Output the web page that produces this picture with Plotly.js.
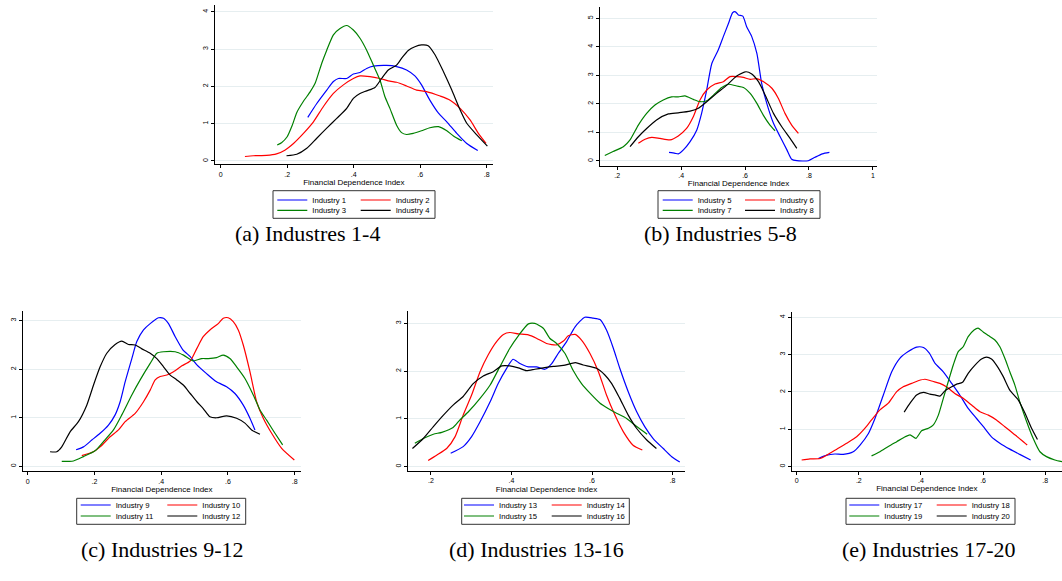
<!DOCTYPE html>
<html><head><meta charset="utf-8">
<script src="https://cdn.plot.ly/plotly-3.0.1.min.js"></script>
<style>html,body{margin:0;padding:0;background:#fff;}#chart{width:1062px;height:581px;}</style>
</head><body><div id="chart"></div>
<script>
// ---------- data ----------
const seriesNames = ['Industry 1','Industry 2','Industry 3','Industry 4','Industry 5','Industry 6','Industry 7','Industry 8','Industry 9','Industry 10','Industry 11','Industry 12','Industry 13','Industry 14','Industry 15','Industry 16','Industry 17','Industry 18','Industry 19','Industry 20'];
const panelCaptions = ['(a) Industres 1-4','(b) Industries 5-8','(c) Industries 9-12','(d) Industries 13-16','(e) Industries 17-20'];
const axisTitle = 'Financial Dependence Index';
const xTickValsA = [0,0.2,0.4,0.6,0.8];
const xTickTextA = ['0','.2','.4','.6','.8'];
const xTickValsB = [0.2,0.4,0.6,0.8,1];
const xTickTextB = ['.2','.4','.6','.8','1'];
const xTickValsD = [0.2,0.4,0.6,0.8];
const xTickTextD = ['.2','.4','.6','.8'];
const yTicks4 = [0,1,2,3,4];
const yTicks5 = [0,1,2,3,4,5];
const yTicks3 = [0,1,2,3];

const ind1X = [0.262,0.289,0.319,0.339,0.354,0.379,0.399,0.419,0.439,0.459,0.499,0.529,0.559,0.584,0.604,0.629,0.655,0.680,0.710,0.740,0.773];
const ind1Y = [1.17,1.54,1.90,2.13,2.21,2.21,2.33,2.37,2.48,2.54,2.56,2.53,2.44,2.28,2.04,1.63,1.28,1.05,0.74,0.47,0.28];
const ind2X = [0.073,0.098,0.138,0.168,0.193,0.219,0.249,0.279,0.309,0.339,0.369,0.399,0.419,0.449,0.479,0.509,0.529,0.559,0.589,0.619,0.660,0.690,0.720,0.750,0.775,0.798];
const ind2Y = [0.12,0.14,0.15,0.19,0.29,0.47,0.74,1.05,1.46,1.81,2.04,2.21,2.28,2.26,2.21,2.14,2.11,2.01,1.90,1.86,1.74,1.63,1.41,1.10,0.74,0.47];
const ind3X = [0.170,0.183,0.200,0.215,0.229,0.249,0.269,0.284,0.304,0.319,0.339,0.359,0.379,0.399,0.419,0.439,0.459,0.479,0.494,0.509,0.529,0.544,0.559,0.579,0.604,0.629,0.655,0.680,0.700,0.725];
const ind3Y = [0.43,0.49,0.65,0.95,1.30,1.60,1.85,2.08,2.62,2.97,3.38,3.55,3.63,3.51,3.29,2.97,2.57,2.17,1.72,1.41,0.96,0.76,0.71,0.74,0.81,0.89,0.92,0.81,0.67,0.54];
const ind4X = [0.198,0.229,0.259,0.289,0.319,0.349,0.379,0.399,0.419,0.439,0.464,0.484,0.504,0.529,0.544,0.564,0.584,0.604,0.624,0.645,0.670,0.695,0.720,0.740,0.770,0.802];
const ind4Y = [0.14,0.18,0.34,0.61,0.88,1.14,1.41,1.68,1.81,1.88,1.97,2.21,2.44,2.57,2.75,2.96,3.06,3.11,3.09,2.84,2.39,1.90,1.37,1.01,0.70,0.40];

const ind5X = [0.362,0.381,0.391,0.407,0.428,0.449,0.464,0.480,0.496,0.516,0.532,0.548,0.561,0.570,0.579,0.593,0.605,0.621,0.637,0.652,0.668,0.689,0.710,0.731,0.746,0.762,0.798,0.819,0.842,0.864];
const ind5Y = [0.30,0.27,0.25,0.39,0.68,1.09,1.67,2.49,3.42,3.89,4.36,4.82,5.20,5.23,5.12,5.08,4.71,4.36,3.77,2.72,2.02,1.32,0.85,0.39,0.06,0.01,0.01,0.13,0.25,0.30];
const ind6X = [0.266,0.287,0.308,0.334,0.365,0.391,0.417,0.438,0.459,0.480,0.506,0.532,0.553,0.574,0.595,0.616,0.637,0.658,0.684,0.704,0.725,0.746,0.767];
const ind6Y = [0.62,0.76,0.83,0.79,0.74,0.88,1.14,1.55,2.14,2.49,2.70,2.78,2.96,2.96,2.93,2.86,2.89,2.78,2.55,2.20,1.67,1.26,0.97];
const ind7X = [0.161,0.187,0.219,0.240,0.266,0.292,0.318,0.344,0.370,0.391,0.412,0.438,0.459,0.480,0.501,0.527,0.548,0.574,0.595,0.616,0.637,0.657,0.678,0.694];
const ind7Y = [0.19,0.33,0.50,0.74,1.26,1.67,1.96,2.14,2.25,2.25,2.28,2.16,2.08,2.11,2.31,2.58,2.69,2.63,2.58,2.37,2.02,1.61,1.26,1.06];
const ind8X = [0.240,0.266,0.292,0.323,0.360,0.391,0.428,0.454,0.480,0.511,0.543,0.574,0.603,0.621,0.642,0.663,0.689,0.715,0.741,0.762];
const ind8Y = [0.50,0.85,1.14,1.44,1.65,1.69,1.75,1.85,2.08,2.37,2.66,2.98,3.13,3.05,2.78,2.31,1.67,1.20,0.79,0.44];

const ind9X = [0.145,0.167,0.192,0.217,0.242,0.262,0.277,0.292,0.312,0.327,0.347,0.367,0.392,0.407,0.422,0.442,0.465,0.487,0.507,0.536,0.566,0.596,0.621,0.646,0.666,0.681];
const ind9Y = [0.34,0.40,0.54,0.68,0.85,1.06,1.33,1.74,2.22,2.57,2.81,2.94,3.06,3.05,2.94,2.67,2.40,2.26,2.09,1.91,1.74,1.64,1.50,1.26,0.99,0.75];
const ind10X = [0.162,0.197,0.217,0.247,0.272,0.292,0.322,0.347,0.367,0.382,0.397,0.417,0.437,0.462,0.487,0.507,0.526,0.546,0.571,0.586,0.601,0.616,0.631,0.646,0.666,0.686,0.706,0.731,0.761,0.799];
const ind10Y = [0.22,0.30,0.40,0.61,0.75,0.92,1.09,1.33,1.57,1.78,1.85,1.88,1.95,2.07,2.17,2.43,2.67,2.81,2.94,3.05,3.06,2.98,2.81,2.50,1.95,1.33,0.99,0.68,0.37,0.13];
const ind11X = [0.102,0.137,0.167,0.202,0.227,0.257,0.282,0.312,0.337,0.367,0.387,0.407,0.442,0.467,0.496,0.521,0.541,0.566,0.586,0.606,0.626,0.651,0.676,0.696,0.716,0.741,0.764];
const ind11Y = [0.10,0.11,0.20,0.32,0.51,0.75,1.06,1.47,1.78,2.12,2.33,2.36,2.36,2.29,2.17,2.22,2.22,2.24,2.29,2.22,2.05,1.81,1.47,1.16,0.95,0.68,0.44];
const ind12X = [0.067,0.087,0.102,0.127,0.152,0.177,0.197,0.217,0.237,0.262,0.282,0.302,0.322,0.342,0.367,0.387,0.407,0.427,0.447,0.467,0.487,0.507,0.526,0.546,0.566,0.596,0.626,0.651,0.671,0.696];
const ind12Y = [0.30,0.30,0.40,0.71,0.92,1.26,1.67,2.05,2.33,2.51,2.58,2.51,2.50,2.42,2.33,2.22,2.05,1.88,1.78,1.67,1.50,1.33,1.19,1.02,1.00,1.04,0.99,0.89,0.75,0.66];

const ind13X = [0.249,0.280,0.301,0.322,0.347,0.367,0.388,0.404,0.421,0.442,0.462,0.483,0.500,0.516,0.537,0.558,0.582,0.603,0.620,0.636,0.653,0.669,0.690,0.711,0.731,0.752,0.777,0.798,0.818];
const ind13Y = [0.28,0.42,0.63,0.94,1.36,1.74,2.06,2.25,2.16,2.09,2.09,2.04,2.16,2.37,2.62,2.93,3.13,3.11,3.08,2.86,2.48,2.06,1.57,1.15,0.84,0.59,0.38,0.21,0.10];
const ind14X = [0.193,0.214,0.239,0.260,0.280,0.301,0.322,0.342,0.363,0.380,0.396,0.417,0.442,0.462,0.487,0.512,0.529,0.541,0.558,0.574,0.595,0.616,0.636,0.657,0.678,0.702,0.725];
const ind14Y = [0.13,0.24,0.38,0.63,1.08,1.50,1.99,2.34,2.62,2.77,2.81,2.78,2.76,2.69,2.58,2.55,2.63,2.74,2.77,2.65,2.37,1.99,1.50,1.08,0.73,0.45,0.35];
const ind15X = [0.160,0.181,0.206,0.227,0.255,0.272,0.293,0.322,0.347,0.371,0.396,0.417,0.442,0.458,0.479,0.495,0.512,0.533,0.553,0.574,0.595,0.620,0.640,0.661,0.686,0.711,0.737];
const ind15Y = [0.49,0.59,0.68,0.72,0.82,0.98,1.15,1.43,1.71,2.09,2.48,2.74,2.99,3.00,2.90,2.69,2.58,2.37,2.02,1.74,1.54,1.33,1.22,1.12,1.01,0.84,0.68];
const ind16X = [0.154,0.181,0.206,0.231,0.255,0.280,0.305,0.330,0.355,0.376,0.396,0.417,0.437,0.458,0.479,0.504,0.529,0.559,0.578,0.611,0.632,0.649,0.669,0.690,0.711,0.736,0.760];
const ind16Y = [0.38,0.59,0.84,1.08,1.29,1.47,1.74,1.90,1.99,2.11,2.11,2.07,2.01,2.04,2.07,2.10,2.12,2.18,2.13,2.06,1.92,1.74,1.43,1.08,0.80,0.56,0.38];

const ind17X = [0.070,0.097,0.123,0.150,0.182,0.204,0.231,0.252,0.279,0.306,0.332,0.359,0.386,0.408,0.427,0.445,0.472,0.499,0.525,0.552,0.579,0.601,0.627,0.654,0.686,0.718,0.753];
const ind17Y = [0.22,0.31,0.34,0.33,0.40,0.58,0.89,1.29,1.92,2.54,2.90,3.08,3.20,3.19,3.04,2.77,2.54,2.23,1.92,1.56,1.29,1.07,0.80,0.63,0.47,0.33,0.18];
const ind18X = [0.016,0.043,0.075,0.097,0.129,0.161,0.193,0.220,0.241,0.268,0.295,0.322,0.343,0.370,0.391,0.413,0.440,0.461,0.483,0.509,0.536,0.563,0.590,0.617,0.643,0.670,0.697,0.724,0.742];
const ind18Y = [0.18,0.21,0.22,0.31,0.47,0.63,0.80,1.03,1.25,1.52,1.70,2.01,2.14,2.23,2.30,2.34,2.28,2.23,2.13,1.96,1.83,1.65,1.47,1.38,1.25,1.07,0.89,0.71,0.58];
const ind19X = [0.241,0.268,0.295,0.322,0.349,0.365,0.384,0.402,0.424,0.440,0.456,0.472,0.488,0.504,0.520,0.536,0.552,0.571,0.584,0.601,0.617,0.638,0.654,0.670,0.686,0.702,0.718,0.740,0.761,0.783,0.804,0.831,0.856];
const ind19Y = [0.29,0.40,0.54,0.67,0.80,0.85,0.76,0.96,1.03,1.12,1.38,1.83,2.28,2.72,3.08,3.21,3.48,3.66,3.71,3.60,3.51,3.39,3.21,2.90,2.54,2.19,1.74,1.21,0.76,0.40,0.27,0.18,0.13];
const ind20X = [0.346,0.365,0.386,0.408,0.429,0.445,0.461,0.477,0.499,0.515,0.534,0.552,0.574,0.595,0.611,0.627,0.643,0.665,0.686,0.713,0.735,0.756,0.775];
const ind20Y = [1.46,1.70,1.92,1.99,1.94,1.92,1.89,2.03,2.14,2.21,2.26,2.50,2.72,2.88,2.93,2.88,2.72,2.41,2.05,1.79,1.43,1.03,0.73];

const seriesX = [ind1X,ind2X,ind3X,ind4X,ind5X,ind6X,ind7X,ind8X,ind9X,ind10X,ind11X,ind12X,ind13X,ind14X,ind15X,ind16X,ind17X,ind18X,ind19X,ind20X];
const seriesY = [ind1Y,ind2Y,ind3Y,ind4Y,ind5Y,ind6Y,ind7Y,ind8Y,ind9Y,ind10Y,ind11Y,ind12Y,ind13Y,ind14Y,ind15Y,ind16Y,ind17Y,ind18Y,ind19Y,ind20Y];

// ---------- layout helpers (pixel geometry) ----------
const W = 1062, H = 581;
const px = v => v / W;
const py = v => 1 - v / H;
const colors = ['#0000ff','#ff0000','#008000','#000000'];
const sans = 'Liberation Sans, Arial, Helvetica, sans-serif';
const serif = 'Liberation Serif, Times New Roman, serif';

const panels = [
  {l:215, r:492.7, t:5,   b:164.3, xr:[-0.017,0.818], yr:[-0.089,4.18], xtv:xTickValsA, xtt:xTickTextA, ytv:yTicks4,
   box:[273,190.7,435,218.3], leg:[[277.3,200],[360.7,200],[277.3,210.3],[360.7,210.3]], cap:[307,233]},
  {l:600, r:877,   t:6.7, b:165.7, xr:[0.146,1.013], yr:[-0.165,5.41], xtv:xTickValsB, xtt:xTickTextB, ytv:yTicks5,
   box:[658,190.7,820,218.3], leg:[[662.7,200],[745,200],[662.7,210.3],[745,210.3]], cap:[720,233]},
  {l:22.7, r:301,  t:311, b:471.3, xr:[-0.015,0.819], yr:[-0.103,3.2], xtv:xTickValsA, xtt:xTickTextA, ytv:yTicks3,
   box:[76.7,498.3,245.7,524.3], leg:[[80.7,505],[167.3,505],[80.7,516],[167.3,516]], cap:[162,549]},
  {l:408,  r:685,  t:311, b:471,   xr:[0.143,0.831], yr:[-0.09,3.26], xtv:xTickValsD, xtt:xTickTextD, ytv:yTicks3,
   box:[461.7,498.3,629.3,524.3], leg:[[464,505],[551.7,505],[464,516],[551.7,516]], cap:[536,549]},
  {l:791.7,r:1062, t:312, b:470.7, xr:[-0.016,0.854], yr:[-0.107,4.14], xtv:xTickValsA, xtt:xTickTextA, ytv:yTicks4,
   box:[846,498.3,1015,524.3], leg:[[849.3,505],[936.7,505],[849.3,516],[936.7,516]], cap:[929,549]}
];

const traces = [];
const layout = {
  width: W, height: H,
  margin: {l:0, r:0, t:0, b:0},
  paper_bgcolor: '#fff', plot_bgcolor: '#fff',
  font: {family: sans, color: '#000'},
  shapes: [], annotations: []
};

panels.forEach((p, i) => {
  const n = i === 0 ? '' : String(i + 1);
  layout['xaxis' + n] = {
    domain: [px(p.l), px(p.r)], range: p.xr, anchor: 'y' + n,
    showline: true, linecolor: '#000', linewidth: 1, mirror: false,
    ticks: 'outside', ticklen: 3, tickwidth: 1, tickcolor: '#000',
    tickvals: p.xtv, ticktext: p.xtt, tickfont: {size: 7, family: sans, color: '#000'},
    showgrid: false, zeroline: false, fixedrange: true,
    title: {text: axisTitle, font: {size: 8, family: sans, color: '#000'}, standoff: 2}
  };
  layout['yaxis' + n] = {
    domain: [py(p.b), py(p.t)], range: p.yr, anchor: 'x' + n,
    showline: true, linecolor: '#000', linewidth: 1,
    ticks: 'outside', ticklen: 3, tickwidth: 1, tickcolor: '#000',
    tickvals: p.ytv, tickangle: -90, tickfont: {size: 7, family: sans, color: '#000'},
    showgrid: true, gridcolor: '#e6eef0', gridwidth: 1, zeroline: false, fixedrange: true
  };
  for (let k = 0; k < 4; k++) {
    const s = i * 4 + k;
    const legName = s === 0 ? 'legend' : 'legend' + (s + 1);
    traces.push({
      type: 'scatter', mode: 'lines',
      x: seriesX[s], y: seriesY[s], name: seriesNames[s],
      xaxis: 'x' + n, yaxis: 'y' + n,
      line: {color: colors[k], width: 1.2, shape: 'spline', smoothing: 0.6},
      legend: legName, showlegend: true, hoverinfo: 'skip'
    });
    layout[legName] = {
      x: px(p.leg[k][0] - 5), y: py(p.leg[k][1]), xanchor: 'left', yanchor: 'middle',
      xref: 'paper', yref: 'paper',
      bgcolor: 'rgba(0,0,0,0)', borderwidth: 0, itemwidth: 30,
      font: {size: 7.7, family: sans, color: '#000'},
      tracegroupgap: 0
    };
  }
  layout.shapes.push({
    type: 'rect', xref: 'paper', yref: 'paper',
    x0: px(p.box[0]), x1: px(p.box[2]), y0: py(p.box[3]), y1: py(p.box[1]),
    line: {color: '#333', width: 1}, fillcolor: 'rgba(0,0,0,0)'
  });
  layout.annotations.push({
    text: panelCaptions[i], xref: 'paper', yref: 'paper',
    x: px(p.cap[0]), y: py(p.cap[1]), xanchor: 'center', yanchor: 'middle',
    showarrow: false, font: {family: serif, size: 22, color: '#000'}
  });
});

Plotly.newPlot('chart', traces, layout, {staticPlot: true, displayModeBar: false});
</script></body></html>
